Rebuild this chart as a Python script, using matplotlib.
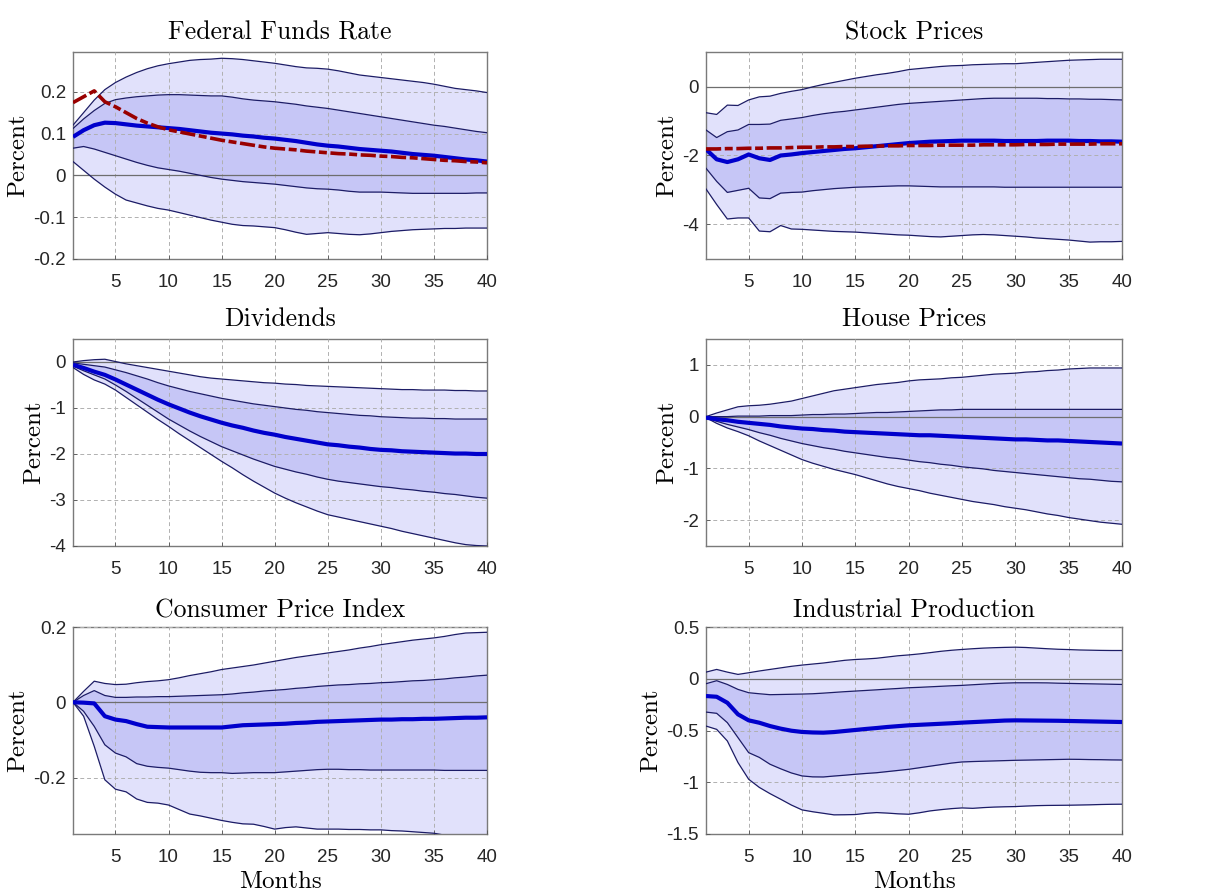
import numpy as np
import matplotlib
matplotlib.use("Agg")
import matplotlib.pyplot as plt

months = list(range(1, 41))
xticks = [5, 10, 15, 20, 25, 30, 35, 40]

titles = ["Federal Funds Rate", "Stock Prices", "Dividends", "House Prices",
          "Consumer Price Index", "Industrial Production"]

# ---- Federal Funds Rate ----
ffr_outer_hi = [0.120, 0.150, 0.180, 0.205, 0.222, 0.235, 0.246, 0.255, 0.262, 0.267,
                0.271, 0.275, 0.277, 0.278, 0.280, 0.279, 0.277, 0.274, 0.271, 0.268,
                0.264, 0.260, 0.257, 0.256, 0.254, 0.250, 0.245, 0.240, 0.237, 0.234,
                0.231, 0.228, 0.225, 0.222, 0.218, 0.213, 0.208, 0.205, 0.202, 0.198]
ffr_inner_hi = [0.112, 0.135, 0.155, 0.172, 0.181, 0.185, 0.188, 0.190, 0.192, 0.193,
                0.193, 0.192, 0.191, 0.190, 0.190, 0.187, 0.183, 0.180, 0.178, 0.176,
                0.173, 0.170, 0.166, 0.163, 0.160, 0.156, 0.152, 0.148, 0.144, 0.140,
                0.136, 0.132, 0.128, 0.124, 0.120, 0.117, 0.113, 0.109, 0.105, 0.102]
ffr_median = [0.092, 0.108, 0.120, 0.126, 0.125, 0.122, 0.119, 0.117, 0.115, 0.113,
              0.111, 0.108, 0.105, 0.102, 0.100, 0.098, 0.095, 0.093, 0.090, 0.088,
              0.085, 0.082, 0.078, 0.074, 0.071, 0.069, 0.066, 0.063, 0.061, 0.059,
              0.057, 0.054, 0.051, 0.049, 0.047, 0.044, 0.041, 0.038, 0.036, 0.033]
ffr_inner_lo = [0.065, 0.069, 0.063, 0.055, 0.047, 0.039, 0.031, 0.024, 0.018, 0.014,
                0.010, 0.005, 0.000, -0.005, -0.009, -0.012, -0.015, -0.017, -0.019, -0.021,
                -0.024, -0.027, -0.030, -0.032, -0.033, -0.035, -0.038, -0.040, -0.040, -0.040,
                -0.041, -0.042, -0.043, -0.043, -0.043, -0.043, -0.043, -0.043, -0.042, -0.042]
ffr_outer_lo = [0.033, 0.012, -0.009, -0.028, -0.045, -0.059, -0.066, -0.073, -0.079, -0.083,
                -0.089, -0.095, -0.101, -0.107, -0.112, -0.117, -0.120, -0.121, -0.123, -0.125,
                -0.130, -0.136, -0.141, -0.139, -0.137, -0.139, -0.141, -0.142, -0.140, -0.137,
                -0.134, -0.132, -0.130, -0.129, -0.128, -0.127, -0.127, -0.126, -0.126, -0.126]
ffr_alt = [0.174, 0.188, 0.202, 0.176, 0.164, 0.150, 0.136, 0.125, 0.116, 0.109,
           0.104, 0.099, 0.094, 0.089, 0.084, 0.080, 0.076, 0.072, 0.068, 0.065,
           0.063, 0.061, 0.058, 0.056, 0.054, 0.052, 0.051, 0.049, 0.048, 0.046,
           0.045, 0.043, 0.042, 0.040, 0.038, 0.036, 0.035, 0.033, 0.032, 0.030]

# ---- Stock Prices ----
stk_outer_hi = [-0.76, -0.81, -0.54, -0.55, -0.39, -0.30, -0.28, -0.20, -0.14, -0.09,
                -0.01, 0.06, 0.12, 0.18, 0.24, 0.29, 0.34, 0.38, 0.43, 0.49,
                0.52, 0.55, 0.58, 0.60, 0.61, 0.63, 0.64, 0.65, 0.66, 0.66,
                0.68, 0.70, 0.72, 0.74, 0.76, 0.77, 0.78, 0.79, 0.79, 0.79]
stk_inner_hi = [-1.26, -1.48, -1.31, -1.26, -1.10, -1.10, -1.09, -0.98, -0.94, -0.90,
                -0.84, -0.79, -0.75, -0.72, -0.68, -0.64, -0.60, -0.56, -0.52, -0.49,
                -0.47, -0.45, -0.43, -0.41, -0.39, -0.37, -0.35, -0.34, -0.34, -0.34,
                -0.34, -0.34, -0.35, -0.35, -0.36, -0.36, -0.37, -0.37, -0.38, -0.39]
stk_median = [-1.82, -2.11, -2.19, -2.11, -1.97, -2.08, -2.13, -2.00, -1.97, -1.93,
              -1.90, -1.87, -1.84, -1.81, -1.79, -1.76, -1.73, -1.70, -1.67, -1.64,
              -1.62, -1.60, -1.59, -1.58, -1.57, -1.57, -1.57, -1.57, -1.58, -1.58,
              -1.58, -1.58, -1.57, -1.57, -1.57, -1.58, -1.58, -1.59, -1.59, -1.60]
stk_inner_lo = [-2.37, -2.75, -3.07, -3.01, -2.95, -3.23, -3.25, -3.09, -3.07, -3.06,
                -3.02, -2.99, -2.96, -2.94, -2.92, -2.91, -2.90, -2.89, -2.88, -2.88,
                -2.89, -2.90, -2.91, -2.91, -2.91, -2.91, -2.91, -2.91, -2.92, -2.92,
                -2.92, -2.92, -2.92, -2.92, -2.92, -2.92, -2.92, -2.92, -2.92, -2.92]
stk_outer_lo = [-2.97, -3.42, -3.84, -3.81, -3.81, -4.19, -4.21, -4.03, -4.13, -4.14,
                -4.16, -4.18, -4.20, -4.21, -4.22, -4.24, -4.26, -4.28, -4.30, -4.31,
                -4.33, -4.35, -4.36, -4.34, -4.32, -4.30, -4.29, -4.30, -4.32, -4.34,
                -4.36, -4.39, -4.41, -4.43, -4.45, -4.48, -4.51, -4.50, -4.50, -4.49]
stk_alt = [-1.81, -1.81, -1.80, -1.80, -1.79, -1.79, -1.78, -1.78, -1.77, -1.76,
           -1.76, -1.75, -1.75, -1.74, -1.74, -1.73, -1.73, -1.72, -1.72, -1.71,
           -1.71, -1.71, -1.70, -1.70, -1.70, -1.70, -1.69, -1.69, -1.69, -1.69,
           -1.68, -1.68, -1.68, -1.67, -1.67, -1.67, -1.67, -1.66, -1.66, -1.66]

# ---- Dividends ----
div_outer_hi = [0.00, 0.03, 0.05, 0.06, 0.01, -0.04, -0.08, -0.12, -0.16, -0.20,
                -0.24, -0.28, -0.32, -0.35, -0.37, -0.39, -0.41, -0.43, -0.45, -0.46,
                -0.48, -0.49, -0.51, -0.52, -0.53, -0.54, -0.55, -0.56, -0.57, -0.58,
                -0.59, -0.60, -0.60, -0.61, -0.61, -0.61, -0.62, -0.62, -0.63, -0.63]
div_inner_hi = [-0.02, -0.05, -0.08, -0.11, -0.17, -0.23, -0.30, -0.37, -0.45, -0.52,
                -0.58, -0.64, -0.69, -0.74, -0.79, -0.83, -0.87, -0.91, -0.94, -0.97,
                -1.00, -1.03, -1.05, -1.08, -1.10, -1.12, -1.14, -1.16, -1.17, -1.19,
                -1.20, -1.21, -1.22, -1.22, -1.23, -1.23, -1.24, -1.24, -1.24, -1.24]
div_median = [-0.06, -0.13, -0.21, -0.28, -0.38, -0.49, -0.60, -0.71, -0.82, -0.92,
              -1.01, -1.10, -1.18, -1.25, -1.32, -1.38, -1.43, -1.49, -1.54, -1.58,
              -1.63, -1.67, -1.71, -1.75, -1.79, -1.81, -1.84, -1.86, -1.89, -1.91,
              -1.92, -1.94, -1.95, -1.96, -1.97, -1.98, -1.99, -1.99, -2.00, -2.00]
div_inner_lo = [-0.09, -0.19, -0.28, -0.37, -0.50, -0.64, -0.79, -0.94, -1.09, -1.24,
                -1.37, -1.50, -1.62, -1.73, -1.84, -1.93, -2.02, -2.11, -2.19, -2.27,
                -2.33, -2.39, -2.44, -2.50, -2.55, -2.59, -2.62, -2.65, -2.68, -2.71,
                -2.73, -2.76, -2.78, -2.81, -2.83, -2.86, -2.88, -2.91, -2.94, -2.96]
div_outer_lo = [-0.12, -0.27, -0.39, -0.48, -0.61, -0.77, -0.93, -1.09, -1.25, -1.40,
                -1.56, -1.71, -1.86, -2.01, -2.16, -2.30, -2.45, -2.59, -2.72, -2.85,
                -2.96, -3.06, -3.15, -3.24, -3.32, -3.37, -3.42, -3.47, -3.52, -3.57,
                -3.62, -3.68, -3.73, -3.78, -3.83, -3.88, -3.93, -3.97, -3.99, -4.00]

# ---- House Prices ----
hp_outer_hi = [0.00, 0.07, 0.13, 0.19, 0.21, 0.22, 0.24, 0.27, 0.30, 0.35,
               0.40, 0.45, 0.50, 0.53, 0.56, 0.59, 0.62, 0.64, 0.66, 0.69,
               0.71, 0.72, 0.73, 0.75, 0.76, 0.78, 0.80, 0.82, 0.83, 0.84,
               0.86, 0.87, 0.89, 0.90, 0.92, 0.93, 0.94, 0.94, 0.94, 0.94]
hp_inner_hi = [0.00, 0.00, 0.00, 0.01, 0.01, 0.01, 0.02, 0.02, 0.02, 0.03,
               0.04, 0.04, 0.05, 0.05, 0.06, 0.07, 0.08, 0.08, 0.09, 0.10,
               0.11, 0.12, 0.13, 0.13, 0.14, 0.14, 0.14, 0.14, 0.14, 0.14,
               0.14, 0.14, 0.14, 0.14, 0.14, 0.14, 0.14, 0.14, 0.14, 0.14]
hp_median = [-0.02, -0.05, -0.07, -0.10, -0.12, -0.14, -0.16, -0.19, -0.21, -0.23,
             -0.24, -0.26, -0.27, -0.29, -0.30, -0.31, -0.32, -0.33, -0.34, -0.35,
             -0.36, -0.36, -0.37, -0.38, -0.39, -0.40, -0.41, -0.42, -0.43, -0.44,
             -0.44, -0.45, -0.46, -0.46, -0.47, -0.48, -0.49, -0.50, -0.51, -0.52]
hp_inner_lo = [-0.02, -0.09, -0.15, -0.20, -0.25, -0.31, -0.36, -0.42, -0.47, -0.52,
               -0.56, -0.60, -0.63, -0.67, -0.70, -0.73, -0.76, -0.79, -0.81, -0.84,
               -0.87, -0.89, -0.92, -0.94, -0.97, -0.99, -1.01, -1.04, -1.06, -1.08,
               -1.10, -1.12, -1.14, -1.16, -1.18, -1.20, -1.21, -1.23, -1.25, -1.26]
hp_outer_lo = [-0.02, -0.13, -0.22, -0.29, -0.37, -0.47, -0.56, -0.65, -0.74, -0.83,
               -0.90, -0.96, -1.02, -1.07, -1.12, -1.18, -1.24, -1.30, -1.35, -1.39,
               -1.43, -1.48, -1.52, -1.56, -1.60, -1.64, -1.67, -1.70, -1.74, -1.77,
               -1.80, -1.84, -1.88, -1.91, -1.95, -1.98, -2.01, -2.04, -2.06, -2.08]

# ---- Consumer Price Index ----
cpi_outer_hi = [0.000, 0.029, 0.056, 0.050, 0.047, 0.048, 0.052, 0.055, 0.057, 0.060,
                0.065, 0.071, 0.076, 0.081, 0.087, 0.091, 0.095, 0.099, 0.104, 0.109,
                0.114, 0.119, 0.123, 0.127, 0.131, 0.135, 0.139, 0.144, 0.148, 0.153,
                0.157, 0.161, 0.165, 0.168, 0.171, 0.175, 0.180, 0.184, 0.185, 0.186]
cpi_inner_hi = [0.000, 0.018, 0.031, 0.018, 0.013, 0.013, 0.014, 0.014, 0.015, 0.015,
                0.016, 0.017, 0.018, 0.019, 0.020, 0.022, 0.025, 0.027, 0.030, 0.032,
                0.034, 0.037, 0.039, 0.042, 0.044, 0.046, 0.047, 0.049, 0.050, 0.052,
                0.053, 0.055, 0.057, 0.058, 0.060, 0.062, 0.065, 0.067, 0.070, 0.072]
cpi_median = [0.000, -0.001, -0.003, -0.037, -0.046, -0.050, -0.058, -0.065, -0.066, -0.067,
              -0.067, -0.067, -0.067, -0.067, -0.067, -0.064, -0.061, -0.060, -0.059, -0.058,
              -0.057, -0.055, -0.054, -0.052, -0.051, -0.050, -0.049, -0.048, -0.047, -0.046,
              -0.046, -0.045, -0.045, -0.044, -0.044, -0.043, -0.042, -0.041, -0.041, -0.040]
cpi_inner_lo = [0.000, -0.024, -0.064, -0.113, -0.135, -0.145, -0.163, -0.170, -0.173, -0.175,
                -0.179, -0.183, -0.186, -0.187, -0.187, -0.189, -0.188, -0.187, -0.187, -0.187,
                -0.185, -0.183, -0.181, -0.179, -0.178, -0.178, -0.179, -0.179, -0.180, -0.180,
                -0.180, -0.180, -0.180, -0.180, -0.180, -0.181, -0.181, -0.181, -0.181, -0.181]
cpi_outer_lo = [0.000, -0.037, -0.117, -0.206, -0.231, -0.238, -0.257, -0.266, -0.268, -0.273,
                -0.285, -0.297, -0.302, -0.308, -0.314, -0.319, -0.323, -0.324, -0.330, -0.337,
                -0.333, -0.331, -0.334, -0.337, -0.337, -0.337, -0.338, -0.338, -0.339, -0.339,
                -0.341, -0.342, -0.344, -0.346, -0.348, -0.353, -0.358, -0.362, -0.366, -0.370]

# ---- Industrial Production ----
ip_outer_hi = [0.064, 0.090, 0.064, 0.042, 0.058, 0.075, 0.090, 0.105, 0.120, 0.132,
               0.142, 0.152, 0.165, 0.178, 0.186, 0.191, 0.198, 0.210, 0.222, 0.230,
               0.240, 0.252, 0.265, 0.275, 0.283, 0.290, 0.296, 0.300, 0.303, 0.305,
               0.302, 0.296, 0.290, 0.285, 0.282, 0.278, 0.276, 0.274, 0.273, 0.273]
ip_inner_hi = [-0.048, -0.019, -0.055, -0.103, -0.135, -0.145, -0.154, -0.152, -0.150, -0.148,
               -0.145, -0.139, -0.132, -0.125, -0.119, -0.113, -0.107, -0.100, -0.094, -0.087,
               -0.083, -0.078, -0.073, -0.068, -0.064, -0.058, -0.052, -0.046, -0.042, -0.039,
               -0.039, -0.039, -0.040, -0.043, -0.045, -0.047, -0.049, -0.051, -0.053, -0.055]
ip_median = [-0.167, -0.174, -0.232, -0.344, -0.402, -0.425, -0.457, -0.482, -0.502, -0.514,
             -0.519, -0.521, -0.515, -0.505, -0.495, -0.485, -0.476, -0.466, -0.458, -0.450,
             -0.445, -0.440, -0.435, -0.430, -0.424, -0.419, -0.414, -0.409, -0.404, -0.402,
             -0.403, -0.404, -0.405, -0.406, -0.408, -0.410, -0.412, -0.414, -0.416, -0.418]
ip_inner_lo = [-0.322, -0.334, -0.424, -0.569, -0.714, -0.760, -0.826, -0.870, -0.910, -0.939,
               -0.948, -0.949, -0.940, -0.932, -0.923, -0.915, -0.908, -0.897, -0.886, -0.875,
               -0.860, -0.845, -0.830, -0.815, -0.804, -0.800, -0.797, -0.794, -0.791, -0.788,
               -0.786, -0.784, -0.782, -0.780, -0.778, -0.779, -0.781, -0.782, -0.784, -0.785]
ip_outer_lo = [-0.457, -0.489, -0.601, -0.810, -0.971, -1.050, -1.110, -1.164, -1.220, -1.267,
               -1.285, -1.300, -1.315, -1.314, -1.312, -1.300, -1.293, -1.298, -1.305, -1.309,
               -1.295, -1.277, -1.265, -1.255, -1.248, -1.252, -1.245, -1.240, -1.237, -1.235,
               -1.230, -1.226, -1.224, -1.223, -1.222, -1.220, -1.218, -1.215, -1.213, -1.212]

ylims = [(-0.2, 0.295), (-5, 1), (-4, 0.5), (-2.5, 1.5), (-0.35, 0.2), (-1.5, 0.5)]
yticks = [[-0.2, -0.1, 0, 0.1, 0.2], [-4, -2, 0], [-4, -3, -2, -1, 0],
          [-2, -1, 0, 1], [-0.2, 0, 0.2], [-1.5, -1, -0.5, 0, 0.5]]
yticklabels = [["-0.2", "-0.1", "0", "0.1", "0.2"], ["-4", "-2", "0"],
               ["-4", "-3", "-2", "-1", "0"], ["-2", "-1", "0", "1"],
               ["-0.2", "0", "0.2"], ["-1.5", "-1", "-0.5", "0", "0.5"]]

panels = [
    (ffr_outer_lo, ffr_inner_lo, ffr_median, ffr_inner_hi, ffr_outer_hi, ffr_alt),
    (stk_outer_lo, stk_inner_lo, stk_median, stk_inner_hi, stk_outer_hi, stk_alt),
    (div_outer_lo, div_inner_lo, div_median, div_inner_hi, div_outer_hi, None),
    (hp_outer_lo, hp_inner_lo, hp_median, hp_inner_hi, hp_outer_hi, None),
    (cpi_outer_lo, cpi_inner_lo, cpi_median, cpi_inner_hi, cpi_outer_hi, None),
    (ip_outer_lo, ip_inner_lo, ip_median, ip_inner_hi, ip_outer_hi, None),
]

plt.rcParams['axes.unicode_minus'] = False
W, H = 1215, 894
fig = plt.figure(figsize=(W / 100, H / 100), dpi=100)

col_left = [73, 706]
col_width = [414, 416]
row_top = [52, 339, 627]
ax_h = 207

outer_col = "#e1e1fb"
inner_col = "#c6c6f6"
edge_col = "#1c1c66"
med_col = "#0000cc"
alt_col = "#990000"
serif = "cmr10"
tick_font = "Liberation Sans"

x = np.array(months)
for i, (olo, ilo, med, ihi, ohi, alt) in enumerate(panels):
    r, c = divmod(i, 2)
    left = col_left[c] / W
    bottom = 1 - (row_top[r] + ax_h) / H
    ax = fig.add_axes([left, bottom, col_width[c] / W, ax_h / H])
    ax.fill_between(x, olo, ohi, color=outer_col, lw=0, zorder=1)
    ax.fill_between(x, ilo, ihi, color=inner_col, lw=0, zorder=1.1)
    ax.axhline(0, color="#6e6e6e", lw=0.9, zorder=2.6)
    for s in (olo, ilo, ihi, ohi):
        ax.plot(x, s, color=edge_col, lw=0.9, zorder=3)
    ax.plot(x, med, color=med_col, lw=3.0, zorder=4, solid_capstyle="butt")
    if alt is not None:
        ax.plot(x, alt, color=alt_col, lw=2.6, zorder=5,
                linestyle=(0, (4.2, 1.0, 2.2, 1.0)), dash_capstyle="butt")
    ax.set_xlim(1, 40)
    ax.set_ylim(*ylims[i])
    ax.set_xticks(xticks)
    ax.set_xticklabels([str(t) for t in xticks], fontfamily=tick_font, fontsize=13.5,
                       color="#262626")
    ax.set_yticks(yticks[i])
    ax.set_yticklabels(yticklabels[i], fontfamily=tick_font, fontsize=13.5,
                       color="#262626")
    ax.tick_params(direction="in", length=3, width=0.6, color="#555555", pad=5)
    ax.tick_params(axis="x", pad=11)
    ax.set_axisbelow(False)
    ax.grid(True, linestyle=(0, (4, 3)), color="#b0b0b0", lw=0.7)
    for sp in ax.spines.values():
        sp.set_color("#7a7a7a")
        sp.set_linewidth(1.0)
    ax.set_title(titles[i], fontfamily=serif, fontsize=18.5, pad=7 if r == 2 else 9)
    ax.set_ylabel("Percent", fontfamily=serif, fontsize=18, labelpad=3)
    if r == 2:
        ax.set_xlabel("Months", fontfamily=serif, fontsize=18, labelpad=3)

fig.savefig("out.png", dpi=100)
